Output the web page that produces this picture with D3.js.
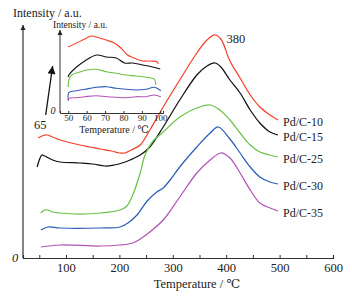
<!DOCTYPE html>
<html><head><meta charset="utf-8">
<script src="https://cdn.jsdelivr.net/npm/d3@7/dist/d3.min.js"></script>
<style>
html,body{margin:0;padding:0;background:#fff;}
</style></head>
<body><svg id="c" width="352" height="297" style="font-family:'Liberation Serif','Times New Roman','DejaVu Serif',serif"></svg>
<script>
// ---------- main chart data (temperature °C, intensity a.u.) ----------
const seriesNames = ["Pd/C-10","Pd/C-15","Pd/C-25","Pd/C-30","Pd/C-35"];
const seriesColors = ["#f5402c","#111111","#6cc24a","#2c5db9","#b254b6"];
const pdc10 = [[48,119],[55,121],[64,122],[75,120],[89,117],[110,114],[126,112],[145,110],[164,108],[185,106],[200,104],[210,104],[222,107],[239,112],[257,127],[282,150],[313,177],[345,204],[364,217],[379,222],[390,218],[407,196],[426,179],[445,162],[463,150],[482,142],[497,137]];
const pdc15 = [[46,90],[50,97],[55,102],[60,101],[75,97],[89,95],[126,94],[150,93],[173,91],[190,92],[205,94],[220,97],[239,102],[257,110],[282,130],[313,157],[345,182],[364,191],[379,194],[390,190],[407,177],[426,164],[445,147],[463,134],[482,125],[497,122]];
const pdc25 = [[53,44],[60,47],[66,47],[75,45],[89,44],[126,43],[164,44],[201,47],[214,51],[225,62],[239,84],[248,102],[263,116],[282,125],[313,140],[345,149],[370,152],[388,147],[407,137],[426,124],[445,112],[463,105],[482,102],[497,100]];
const pdc30 = [[53,27],[66,30],[89,29],[164,29],[201,30],[216,34],[233,42],[252,56],[270,65],[282,69],[295,77],[313,90],[345,110],[370,124],[385,130],[407,118],[426,104],[445,90],[463,80],[482,75],[497,73]];
const pdc35 = [[53,10],[89,12],[164,11],[201,12],[225,14],[239,18],[257,25],[282,37],[313,60],[345,84],[370,97],[390,104],[407,99],[426,84],[445,67],[463,54],[482,49],[497,46]];
const mainSeries = [pdc10,pdc15,pdc25,pdc30,pdc35];
const xTicks = [100,200,300,400,500,600];
const xMinorTicks = [50,100,150,200,250,300,350,400,450,500,550,600];

// ---------- inset data (50–100 °C) ----------
const in10 = [[50,66],[54.5,70],[59,74],[62.6,77],[67,75],[70.6,73],[75,70],[78.6,65],[82.2,58],[85.8,55],[90.3,52],[94.8,52],[98.4,51],[99,49]];
const in15 = [[50,36],[50.3,38],[54.5,46],[59,52],[65.3,58],[70.7,56],[76.1,55],[80.6,50],[85,50],[90.5,48],[95.8,46],[100,44]];
const in25 = [[50,26],[50.3,33],[51.8,38],[56.3,41],[59.9,43],[65.3,43.7],[70.7,41.3],[76.1,39.7],[81.5,38],[86.9,37],[92.3,35.7],[95.8,34.7],[96.8,34],[97.6,28]];
const in30 = [[50,13],[50.3,20.3],[54.5,22.3],[59,23.7],[65.3,25.7],[70.7,26.3],[76.1,24.7],[81.5,23.7],[86.9,23],[92.3,23.7],[96.8,25.7],[100.3,22.3]];
const in35 = [[50,12],[50.3,14.7],[54.5,15.3],[59,16.3],[65.3,17.3],[70.7,16.3],[76.1,15.7],[81.5,15.3],[86.9,16.3],[92.3,16.3],[96.8,18],[100.3,16.3]];
const insetSeries = [in10,in15,in25,in30,in35];
const insetTicks = [50,60,70,80,90,100];

// annotations
const peakLabel = {t:380, text:"380"};
const lowLabel = {t:65, text:"65"};

const FONT = "'Liberation Serif','Times New Roman','DejaVu Serif',serif";
const svg = d3.select("#c");

// ---------- main scales ----------
const x = d3.scaleLinear().domain([19.5,600]).range([23,333]);
const y = d3.scaleLinear().domain([-1,235]).range([258,22]);

const line = d3.line().x(d=>x(d[0])).y(d=>y(d[1])).curve(d3.curveCatmullRom.alpha(0.5));

// axes
const gx = svg.append("g").attr("transform",`translate(0,${y(-1)})`)
  .call(d3.axisBottom(x).tickValues(xMinorTicks).tickSize(-3).tickFormat(""));
gx.select(".domain").attr("stroke","#333").attr("stroke-width",1.2);
gx.selectAll(".tick line").attr("stroke","#333");
const gxl = svg.append("g").attr("transform",`translate(0,${y(-1)})`)
  .call(d3.axisBottom(x).tickValues(xTicks).tickSize(0).tickPadding(5));
gxl.attr("font-family",FONT);
gxl.select(".domain").remove();
gxl.selectAll("text").attr("font-size","12.5px").attr("fill","#222");

// y axis with arrow
svg.append("defs").append("marker").attr("id","ah").attr("viewBox","0 0 10 10")
  .attr("refX",10).attr("refY",5).attr("markerWidth",5).attr("markerHeight",7)
  .attr("markerUnits","userSpaceOnUse").attr("orient","auto")
  .append("path").attr("d","M0,0L10,5L0,10Z").attr("fill","#222");
svg.append("line").attr("x1",x(19.5)).attr("x2",x(19.5)).attr("y1",y(-1)).attr("y2",y(232))
  .attr("stroke","#333").attr("stroke-width",1.2).attr("marker-end","url(#ah)");

const T = (xx,yy,size,txt)=>svg.append("text").attr("x",xx).attr("y",yy)
  .attr("font-family",FONT).attr("font-size",size).attr("fill","#222").text(txt);

T(13,17,"12px","Intensity / a.u.");
T(15,262,"12.5px","0").attr("text-anchor","middle").attr("font-style","italic");
T(197,288,"12.5px","Temperature / ℃").attr("text-anchor","middle");

// main curves
mainSeries.forEach((s,i)=>{
  svg.append("path").datum(s).attr("d",line).attr("fill","none")
    .attr("stroke",seriesColors[i]).attr("stroke-width",1.25);
  const last = s[s.length-1];
  T(x(last[0])+5,y(last[1])+6,"12px",seriesNames[i]);
});

// peak label 380
T(x(peakLabel.t)+11,y(222)+8,"12.5px",peakLabel.text);
// 65 label + arrow
T(x(lowLabel.t)-7,y(122)-6,"12.5px",lowLabel.text).attr("text-anchor","middle");
svg.append("defs").append("marker").attr("id","ah2").attr("viewBox","0 0 10 10")
  .attr("refX",10).attr("refY",5).attr("markerWidth",14).attr("markerHeight",8)
  .attr("markerUnits","userSpaceOnUse").attr("orient","auto")
  .append("path").attr("d","M0,0L10,5L0,10Z").attr("fill","#111");
svg.append("line").attr("x1",x(62)).attr("y1",y(142)).attr("x2",x(75)).attr("y2",y(191))
  .attr("stroke","#111").attr("stroke-width",1.3).attr("marker-end","url(#ah2)");

// ---------- inset ----------
const xi = d3.scaleLinear().domain([45.5,101.5]).range([60,163]);
const yi = d3.scaleLinear().domain([0,89]).range([113,24]);
const linei = d3.line().x(d=>xi(d[0])).y(d=>yi(d[1])).curve(d3.curveCatmullRom.alpha(0.5));

const gi = svg.append("g").attr("transform",`translate(0,${yi(0)})`)
  .call(d3.axisBottom(xi).tickValues(insetTicks).tickSize(-2).tickPadding(2));
gi.attr("font-family",FONT);
gi.select(".domain").attr("stroke","#333").attr("stroke-width",1);
gi.selectAll(".tick line").attr("stroke","#333");
gi.selectAll("text").attr("font-size","9px").attr("fill","#222");
svg.append("line").attr("x1",xi(45.5)).attr("x2",xi(45.5)).attr("y1",yi(0)).attr("y2",yi(83))
  .attr("stroke","#333").attr("stroke-width",1).attr("marker-end","url(#ah)");
T(53,28,"9.5px","Intensity / a.u.");
T(53,114,"10px","0").attr("text-anchor","middle").attr("font-style","italic");
T(114,133,"10px","Temperature / ℃").attr("text-anchor","middle");

insetSeries.forEach((s,i)=>{
  svg.append("path").datum(s).attr("d",linei).attr("fill","none")
    .attr("stroke",seriesColors[i]).attr("stroke-width",1.1);
});
</script></body></html>
